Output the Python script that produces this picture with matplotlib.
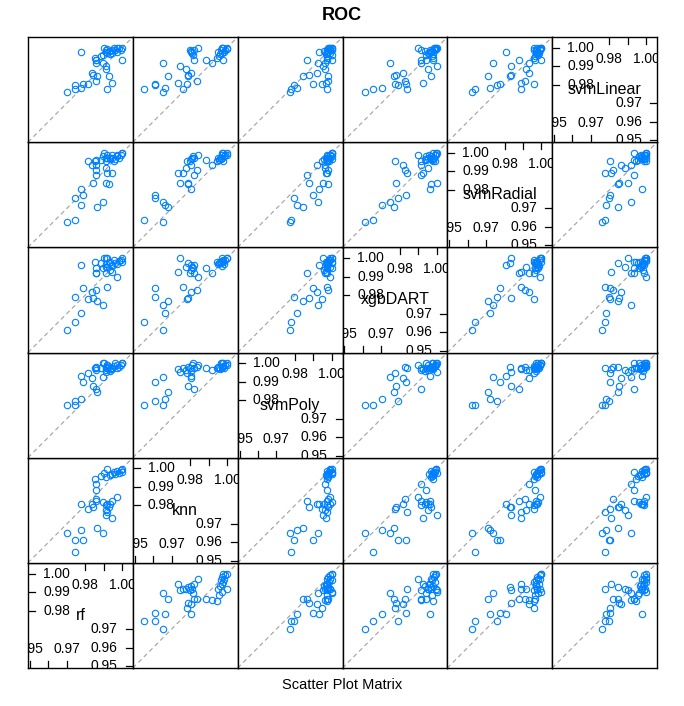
import matplotlib
matplotlib.use("Agg")
import matplotlib.pyplot as plt

plt.rcParams["font.family"] = ["Liberation Sans", "DejaVu Sans"]

# resampled ROC values per model (one entry per resample)
models = ["rf", "knn", "svmPoly", "xgbDART", "svmRadial", "svmLinear"]

rf = [1.0000, 0.9992, 0.9997, 0.9982, 0.9973, 0.9964, 0.9955, 0.9943, 0.9932, 0.9919,
      0.9914, 0.9901, 0.9883, 0.9853, 0.9856, 0.9860, 0.9973, 0.9943, 0.9932, 0.9919,
      0.9910, 0.9928, 0.9896, 0.9914, 0.9946, 0.9919, 0.9910, 0.9896, 0.9863, 0.9860,
      0.9860, 0.9842, 0.9838, 0.9815, 0.9779, 0.9788, 0.9779, 0.9744, 0.9744, 0.9699]
knn = [0.9999, 0.9990, 0.9981, 0.9975, 0.9986, 0.9968, 0.9981, 0.9972, 0.9963, 0.9999,
       0.9954, 0.9975, 0.9957, 0.9945, 0.9918, 0.9885, 0.9845, 0.9824, 0.9806, 0.9809,
       0.9800, 0.9791, 0.9818, 0.9777, 0.9734, 0.9764, 0.9746, 0.9651, 0.9679, 0.9836,
       0.9824, 0.9791, 0.9806, 0.9782, 0.9806, 0.9611, 0.9665, 0.9548, 0.9611, 0.9651]
svmPoly = [0.9999, 0.9990, 1.0000, 0.9981, 0.9972, 0.9999, 0.9986, 0.9975, 0.9968, 0.9990,
           0.9981, 0.9999, 0.9972, 0.9975, 0.9963, 0.9972, 0.9990, 0.9972, 0.9957, 0.9990,
           0.9975, 0.9981, 0.9999, 0.9963, 0.9968, 0.9972, 0.9954, 0.9927, 0.9845, 0.9981,
           0.9863, 0.9878, 0.9918, 0.9945, 0.9932, 0.9896, 0.9809, 0.9777, 0.9795, 0.9773]
xgbDART = [0.9999, 0.9990, 0.9981, 0.9986, 0.9968, 0.9975, 0.9990, 0.9957, 0.9981, 0.9999,
           0.9968, 1.0000, 0.9975, 0.9981, 0.9918, 0.9945, 0.9900, 0.9963, 0.9936, 0.9954,
           0.9918, 0.9972, 0.9945, 0.9954, 0.9927, 0.9842, 1.0000, 0.9746, 0.9770, 0.9827,
           0.9918, 0.9782, 0.9818, 0.9777, 0.9963, 0.9836, 0.9705, 0.9656, 0.9788, 0.9614]
svmRadial = [0.9999, 0.9990, 0.9999, 0.9975, 0.9981, 0.9968, 0.9957, 0.9986, 0.9972, 0.9990,
             0.9975, 0.9999, 0.9963, 0.9957, 0.9932, 0.9963, 0.9990, 0.9972, 0.9968, 0.9975,
             0.9957, 0.9831, 0.9981, 0.9918, 0.9890, 0.9890, 0.9836, 0.9737, 0.9710, 0.9909,
             0.9878, 0.9836, 0.9932, 0.9957, 0.9806, 0.9773, 0.9719, 0.9638, 0.9759, 0.9625]
svmLinear = [0.9999, 0.9990, 0.9936, 0.9999, 0.9975, 0.9986, 0.9999, 0.9972, 0.9968, 0.9995,
             0.9975, 1.0000, 0.9957, 0.9945, 0.9918, 0.9936, 0.9999, 0.9990, 0.9981, 0.9972,
             0.9986, 0.9845, 0.9963, 0.9885, 0.9809, 0.9777, 0.9900, 0.9918, 0.9845, 0.9818,
             0.9936, 0.9854, 0.9863, 0.9806, 0.9975, 0.9806, 0.9782, 0.9777, 0.9800, 0.9759]

values = [rf, knn, svmPoly, xgbDART, svmRadial, svmLinear]

lims = (0.9490, 1.0058)
upper_ticks = [0.98, 0.99, 1.00]
upper_xlabels = [0.98, 1.00]
lower_ticks = [0.95, 0.96, 0.97]
lower_xlabels = [0.95, 0.97]

W, H = 684, 706
left, right, top, bottom = 28, 657, 37, 668
cw = (right - left) / 6
ch = (bottom - top) / 6

fig = plt.figure(figsize=(W / 100, H / 100), dpi=100)

for r in range(6):          # row counted from bottom
    for c in range(6):
        x0 = (left + c * cw) / W
        y0 = 1 - (bottom - r * ch) / H
        ax = fig.add_axes([x0, y0, cw / W, ch / H])
        ax.set_xlim(lims)
        ax.set_ylim(lims)
        ax.set_xticks([])
        ax.set_yticks([])
        for s in ax.spines.values():
            s.set_linewidth(1.0)
        if r == c:
            ax.text(0.5, 0.5, models[r], transform=ax.transAxes,
                    ha="center", va="center", fontsize=11.5)
            tl = 7 / ch
            xt = ax.get_xaxis_transform()
            yt = ax.get_yaxis_transform()
            for t in upper_ticks:
                ax.plot([t, t], [1, 1 - tl], color="black", lw=0.9, transform=xt)
                ax.plot([0, tl], [t, t], color="black", lw=0.9, transform=yt)
                ax.text(15 / cw, t, f"{t:.2f}", transform=yt, ha="left",
                        va="center", fontsize=10, clip_on=True)
            for t in upper_xlabels:
                ax.text(t, 1 - 22 / ch, f"{t:.2f}", transform=xt, ha="center",
                        va="center", fontsize=10, clip_on=True)
            for t in lower_ticks:
                ax.plot([t, t], [0, tl], color="black", lw=0.9, transform=xt)
                ax.plot([1, 1 - tl], [t, t], color="black", lw=0.9, transform=yt)
                ax.text(1 - 15 / cw, t, f"{t:.2f}", transform=yt, ha="right",
                        va="center", fontsize=10, clip_on=True)
            for t in lower_xlabels:
                ax.text(t, 19 / ch, f"{t:.2f}", transform=xt, ha="center",
                        va="center", fontsize=10, clip_on=True)
        else:
            ax.plot(lims, lims, color="#a0a0a0", lw=0.8, ls=(0, (4, 3)))
            ax.plot(values[c], values[r], ls="none", marker="o", ms=4.6,
                    mfc="none", mec="#0080ff", mew=0.8, clip_on=True)

fig.text(0.5, 1 - 16 / H, "ROC", ha="center", va="center",
         fontsize=13, fontweight="bold")
fig.text(0.5, 1 - 685 / H, "Scatter Plot Matrix", ha="center", va="center",
         fontsize=10.5)

fig.savefig("out.png", dpi=100)
